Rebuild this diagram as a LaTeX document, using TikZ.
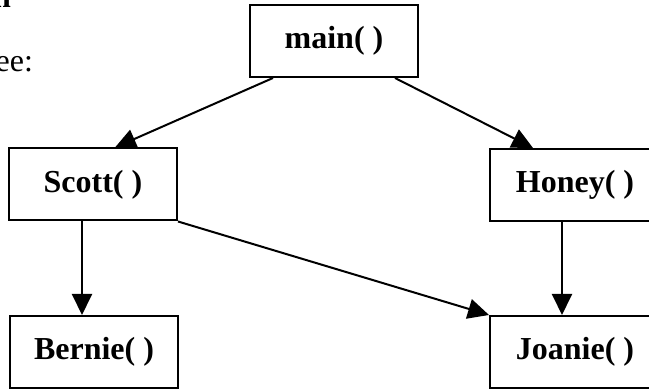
\documentclass[tikz,border=0pt]{standalone}
\usepackage{fontspec}
\setmainfont{Liberation Serif}
\usetikzlibrary{arrows.meta}

\begin{document}
\begin{tikzpicture}
  [x=0.5pt,y=0.5pt,line width=1pt,
   fn/.style={rectangle,draw,inner sep=0pt,minimum height=36pt,
     font=\bfseries\fontsize{16}{19}\selectfont},
   call/.style={-{Triangle[length=10.5pt,width=10pt]}}]
  \useasboundingbox (0,0) rectangle (649,389);
  % cut-off text at the left edge
  \node[anchor=base east,inner sep=0pt,font=\bfseries\fontsize{16}{19}\selectfont] (head) at (12,381) {n};
  \node[anchor=base east,inner sep=0pt,font=\fontsize{16}{19}\selectfont] (tree) at (34,317) {ree:};
  % the calls
  \node[fn,minimum width=84pt] (main) at (334,348) {main( )};
  \node[fn,minimum width=84pt] (scott) at (93,204.5) {Scott( )};
  \node[fn,minimum width=85pt] (honey) at (575,204) {Honey( )};
  \node[fn,minimum width=84pt] (bernie) at (94,37) {Bernie( )};
  \node[fn,minimum width=85pt] (joanie) at (575,37) {Joanie( )};
  \foreach \from/\sa/\to/\sb in {main.south/-30.5/scott.north/11,main.south/30.5/honey.north/-21,
      scott.south/-5.5/bernie.north/-6,honey.south/-6.5/joanie.north/-6.5,
      scott.south east/0/joanie.north west/0}
    \draw[call] ([xshift=\sa pt]\from) -- ([xshift=\sb pt]\to);
\end{tikzpicture}
\end{document}
